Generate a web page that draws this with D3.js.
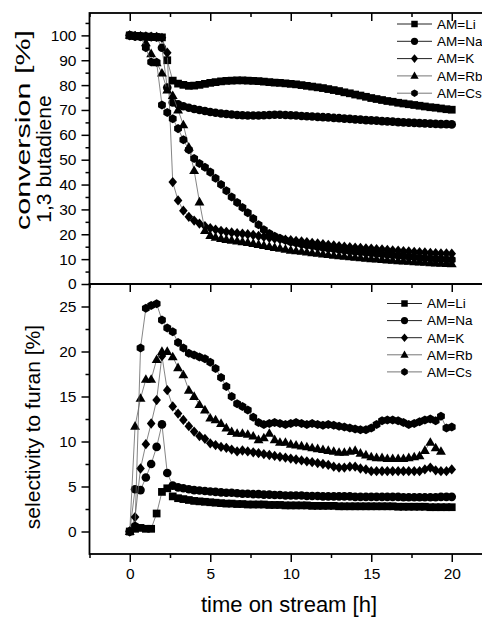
<!DOCTYPE html>
<html>
<head>
<meta charset="utf-8">
<script src="https://d3js.org/d3.v7.min.js"></script>
<style>
body { margin: 0; background: #fff; }
svg text { font-family: "Liberation Sans", Arial, sans-serif; fill: #000; }
.tick line { stroke: #000; stroke-width: 1.5; }
</style>
</head>
<body>
<script>
// sample times [h], every 20 min
var hours = [0,0.33,0.67,1,1.33,1.67,2,2.33,2.67,3,3.33,3.67,4,4.33,4.67,5,5.33,5.67,6,6.33,6.67,
  7,7.33,7.67,8,8.33,8.67,9,9.33,9.67,10,10.33,10.67,11,11.33,11.67,12,12.33,12.67,13,13.33,13.67,
  14,14.33,14.67,15,15.33,15.67,16,16.33,16.67,17,17.33,17.67,18,18.33,18.67,19,19.33,19.67,20];

var seriesNames = ["AM=Li", "AM=Na", "AM=K", "AM=Rb", "AM=Cs"];
var seriesShapes = ["square", "circle", "diamond", "triangle", "hexagon"];

// conversion 1,3 butadiene [%]
var convLi = [100,99.8,99.6,99.5,99.4,99.3, 99.2,90,81.8,80.6,80.1,79.7, 79.8,80.1,80.5,80.9,81.2,81.5,
  81.7,81.8,81.9,81.9,81.8,81.7, 81.6,81.4,81.2,81.0,80.9,80.7, 80.5,80.3,80.0,79.7,79.4,79.1,
  78.8,78.4,78.0,77.6,77.1,76.7, 76.2,75.8,75.3,74.8,74.4,74.0, 73.6,73.3,72.9,72.6,72.3,72.0,
  71.7,71.4,71.1,70.9,70.6,70.3, 70.1];
var convNa = [100,99.7,99.6,99.5,99.4,99.3, 95,79,73,72.3,71.5,70.9, 70.4,70.0,69.6,69.2,68.9,68.6,
  68.4,68.2,68.0,67.9,67.8,67.8, 67.8,67.9,68.0,68.1,68.1,68.0, 67.9,67.8,67.6,67.5,67.4,67.2,
  67.1,67.0,66.8,66.7,66.5,66.4, 66.2,66.1,65.9,65.8,65.7,65.5, 65.4,65.3,65.1,65.0,64.9,64.8,
  64.7,64.6,64.5,64.4,64.3,64.3, 64.2];
var convK = [100,99.8,99.7,99.6,99.5,99.4, 99.0,93,41,33.6,29.5,27.0, 25.5,24.3,23.3,22.5,21.9,21.4,
  21.0,20.7,20.4,20.2,20.0,19.7, 19.3,19.0,18.6,18.3,18.0,17.8, 17.6,17.3,17.1,16.8,16.5,16.3,
  16.0,15.7,15.5,15.2,15.0,14.8, 14.6,14.5,14.3,14.2,14.0,13.9, 13.7,13.5,13.4,13.2,13.1,12.9,
  12.8,12.7,12.5,12.4,12.3,12.3, 12.2];
var convRb = [100,99.7,99.5,97,92.6,89, 84.8,78,75.8,70,64,55, 45.6,33,21.5,19.5,18.8,18.3,
  17.9,17.6,17.3,17.0,16.7,16.3, 15.9,15.5,15.1,14.7,14.4,14.0, 13.6,13.3,13.1,12.8,12.5,12.3,
  12.0,11.8,11.5,11.3,11.1,10.9, 10.7,10.5,10.3,10.1,10.0,9.8, 9.6,9.5,9.3,9.2,9.1,8.9,
  8.8,8.7,8.5,8.4,8.3,8.2, 8.1];
var convCs = [100,99.6,99.5,95,89.3,89.2, 72,69,66.5,62.5,58,54, 50.5,48.5,47,45,42.5,40,
  37.5,35,32.8,30.8,28.7,26.3, 23.8,21.8,20.3,19.2,18.4,17.6, 16.9,16.5,16.0,15.6,15.3,14.9,
  14.6,14.3,14.1,13.8,13.5,13.2, 13.0,12.8,12.6,12.4,12.2,12.0, 11.8,11.6,11.4,11.2,11.0,10.8,
  10.6,10.4,10.3,10.1,10.0,9.9, 9.8];

// selectivity to furan [%]
var selLi = [0,0.3,0.4,0.3,0.3,2.0, 4.4,4.8,3.9,3.7,3.6,3.5, 3.4,3.35,3.3,3.25,3.2,3.15,
  3.1,3.1,3.05,3.05,3.0,3.0, 3.0,3.0,2.95,2.95,2.95,2.9, 2.9,2.9,2.9,2.9,2.85,2.85,
  2.85,2.85,2.85,2.8,2.8,2.8, 2.8,2.8,2.8,2.8,2.8,2.8, 2.8,2.8,2.75,2.75,2.75,2.75,
  2.75,2.75,2.7,2.7,2.7,2.7, 2.7];
var selNa = [0,4.7,4.6,6.0,7.5,9.4, 11.9,6.5,5.1,4.9,4.8,4.7, 4.6,4.55,4.5,4.45,4.4,4.35,
  4.3,4.3,4.25,4.2,4.2,4.15, 4.15,4.1,4.1,4.05,4.05,4.0, 4.0,4.0,4.0,3.95,3.95,3.95,
  3.9,3.9,3.9,3.9,3.9,3.9, 3.85,3.85,3.85,3.85,3.85,3.85, 3.85,3.85,3.85,3.8,3.8,3.8,
  3.8,3.8,3.8,3.8,3.85,3.85, 3.85];
var selK = [0,1.6,7.0,9.7,12.0,14.6, 19.5,15.7,13.9,13.1,12.4,11.7, 11.1,10.6,10.3,9.8,9.6,9.4,
  9.3,9.1,8.9,9.0,8.9,8.8, 8.7,8.6,8.5,8.4,8.3,8.2, 8.1,8.0,7.9,7.8,7.7,7.6,
  7.5,7.4,7.2,7.1,7.1,7.2, 7.2,7.0,6.9,6.7,6.7,6.7, 6.7,6.7,6.7,6.7,6.7,6.7,
  6.7,6.9,7.1,6.8,6.7,6.7, 6.9];
var selRb = [0,11.7,14.8,16.9,16.9,19.1, 20.0,20.0,19.4,18.2,17.4,15.7, 15.0,14.1,13.5,12.6,12.4,12.0,
  11.5,11.1,10.9,10.9,10.8,10.6, 10.2,10.4,10.9,10.2,9.9,9.9, 9.7,9.6,9.5,9.4,9.3,9.2,
  9.1,9.0,8.9,8.8,8.8,8.9, 9.0,8.7,8.5,8.3,8.2,8.2, 8.1,8.1,8.1,8.1,8.2,8.3,
  8.4,9.0,9.9,9.3,8.9,null, null];
var selCs = [0,0.6,20.4,24.8,25.1,25.3, 23.5,22.6,22.2,21.0,20.4,19.8, 19.6,19.4,19.2,18.8,18.1,17.1,
  16.1,15.0,14.2,13.9,13.5,12.7, 12.1,11.9,12.0,12.1,12.0,11.9, 12.0,12.1,12.0,11.9,12.0,11.9,
  11.8,11.9,11.8,11.7,11.6,11.5, 11.4,11.3,11.3,11.5,11.9,12.3, 12.4,12.4,12.3,12.1,11.9,12.0,
  12.2,12.4,12.5,12.3,12.8,11.5, 11.6];

var xTicks = [0, 5, 10, 15, 20];
var xMinor = [-2.5, 2.5, 7.5, 12.5, 17.5];
var convTicks = [0, 10, 20, 30, 40, 50, 60, 70, 80, 90, 100];
var convMinor = [5, 15, 25, 35, 45, 55, 65, 75, 85, 95, 105];
var selTicks = [0, 5, 10, 15, 20, 25];
var selMinor = [2.5, 7.5, 12.5, 17.5, 22.5];

var width = 482, height = 619;
var left = 89.5, right = 492, top1 = 13, mid = 284, bottom2 = 554;

var svg = d3.select("body").append("svg")
  .attr("width", width).attr("height", height);

var x = d3.scaleLinear().domain([-2.5, 22.5]).range([left, right]);
var yConv = d3.scaleLinear().domain([0, 109]).range([mid, top1]);
var ySel = d3.scaleLinear().domain([-2.5, 27.5]).range([bottom2, mid]);

// marker shapes, r = half size
function markerPath(kind, r) {
  if (kind == "circle") return d3.symbol(d3.symbolCircle, Math.PI * r * r)();
  if (kind == "square") { var s = r * 0.9; return "M" + -s + "," + -s + "H" + s + "V" + s + "H" + -s + "Z"; }
  if (kind == "diamond") return "M0," + (-r * 1.2) + "L" + r + ",0L0," + (r * 1.2) + "L" + -r + ",0Z";
  if (kind == "triangle") return "M0," + (-r * 1.2) + "L" + (r * 1.15) + "," + (r * 0.8) + "L" + (-r * 1.15) + "," + (r * 0.8) + "Z";
  var p = [];
  for (var k = 0; k < 6; k++) {
    var a = Math.PI / 3 * k - Math.PI / 2;
    p.push([Math.cos(a) * r * 1.05, Math.sin(a) * r * 1.05]);
  }
  return "M" + p.join("L") + "Z";
}

function drawPanel(y, series) {
  var g = svg.append("g");
  var line = d3.line()
    .defined(function(d) { return d[1] != null; })
    .x(function(d) { return x(d[0]); })
    .y(function(d) { return y(d[1]); });
  series.forEach(function(vals, i) {
    var pts = hours.map(function(h, j) { return [h, vals[j]]; });
    g.append("path").attr("d", line(pts))
      .attr("fill", "none").attr("stroke", "#666").attr("stroke-width", 0.8);
    g.selectAll(null).data(pts.filter(function(d) { return d[1] != null; }))
      .enter().append("path")
      .attr("d", markerPath(seriesShapes[i], 4.3))
      .attr("transform", function(d) { return "translate(" + x(d[0]) + "," + y(d[1]) + ")"; })
      .attr("fill", "#000");
  });
}

function drawLegend(lx, ly, step) {
  var g = svg.append("g");
  seriesNames.forEach(function(name, i) {
    var yy = ly + i * step;
    g.append("line").attr("x1", lx).attr("x2", lx + 35).attr("y1", yy).attr("y2", yy)
      .attr("stroke", i < 3 ? "#222" : "#777").attr("stroke-width", 1);
    g.append("path").attr("d", markerPath(seriesShapes[i], 3.6))
      .attr("transform", "translate(" + (lx + 17.5) + "," + yy + ")");
    g.append("text").attr("x", lx + 40).attr("y", yy).attr("dy", "0.36em")
      .style("font-size", "13.5px").text(name);
  });
}

function addAxis(axis, tx, ty) {
  var g = svg.append("g").attr("transform", "translate(" + tx + "," + ty + ")").call(axis);
  g.select(".domain").remove();
  g.selectAll("text").style("font-size", "15.5px").style("font-family", "Liberation Sans, Arial, sans-serif");
  return g;
}

drawPanel(yConv, [convLi, convNa, convK, convRb, convCs]);
drawPanel(ySel, [selLi, selNa, selK, selRb, selCs]);

// top panel axes
addAxis(d3.axisLeft(yConv).tickValues(convTicks).tickSize(8).tickPadding(5), left, 0);
addAxis(d3.axisLeft(yConv).tickValues(convMinor).tickSize(4).tickFormat(""), left, 0);
addAxis(d3.axisBottom(x).tickValues(xTicks).tickSize(8).tickFormat(""), 0, top1);
addAxis(d3.axisBottom(x).tickValues(xMinor.concat([22.5])).tickSize(4).tickFormat(""), 0, top1);
addAxis(d3.axisBottom(x).tickValues(xTicks).tickSize(8).tickFormat(""), 0, mid);
addAxis(d3.axisBottom(x).tickValues(xMinor).tickSize(4).tickFormat(""), 0, mid);

// bottom panel axes
addAxis(d3.axisLeft(ySel).tickValues(selTicks).tickSize(8).tickPadding(5), left, 0);
addAxis(d3.axisLeft(ySel).tickValues(selMinor).tickSize(4).tickFormat(""), left, 0);
addAxis(d3.axisBottom(x).tickValues(xTicks).tickSize(8).tickPadding(6), 0, bottom2);
addAxis(d3.axisBottom(x).tickValues(xMinor).tickSize(4).tickFormat(""), 0, bottom2);

// frames
svg.append("rect").attr("x", left).attr("y", top1).attr("width", right - left).attr("height", mid - top1)
  .attr("fill", "none").attr("stroke", "#000").attr("stroke-width", 1.8);
svg.append("rect").attr("x", left).attr("y", mid).attr("width", right - left).attr("height", bottom2 - mid)
  .attr("fill", "none").attr("stroke", "#000").attr("stroke-width", 1.8);

drawLegend(397, 24, 17.3);
drawLegend(387, 303.5, 17.1);

// axis titles
svg.append("text").attr("transform", "translate(30,130) rotate(-90)")
  .attr("text-anchor", "middle").attr("textLength", 200).attr("lengthAdjust", "spacingAndGlyphs")
  .style("font-size", "21px").text("conversion [%]");
svg.append("text").attr("transform", "translate(51,159) rotate(-90)")
  .attr("text-anchor", "middle").style("font-size", "21px").text("1,3 butadiene");
svg.append("text").attr("transform", "translate(40,427) rotate(-90)")
  .attr("text-anchor", "middle").style("font-size", "21px").text("selectivity to furan [%]");
svg.append("text").attr("x", 289).attr("y", 612)
  .attr("text-anchor", "middle").style("font-size", "22px").text("time on stream [h]");
</script>
</body>
</html>
